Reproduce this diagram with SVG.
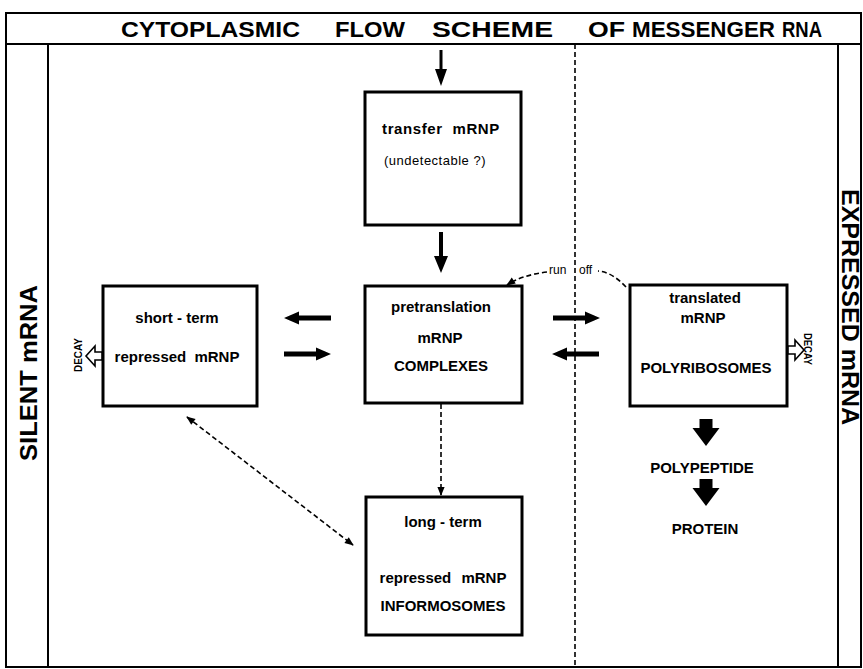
<svg xmlns="http://www.w3.org/2000/svg" width="863" height="669" viewBox="0 0 863 669">
<style>
text{font-family:"Liberation Sans",Arial,sans-serif;fill:#000}
.b{font-weight:bold;font-size:15px;text-anchor:middle}
.r{font-size:13px;text-anchor:middle;letter-spacing:0.5px}
.t{font-weight:bold;font-size:22px}
.side{font-weight:bold;font-size:23px;text-anchor:middle}
.decay{font-weight:bold;font-size:11px;text-anchor:middle}
.box{fill:#fff;stroke:#000;stroke-width:3}
.frame{fill:none;stroke:#000;stroke-width:2}
.dash{fill:none;stroke:#000;stroke-width:1.6;stroke-dasharray:5 3}
.arr{fill:#000}
.open{fill:#fff;stroke:#000;stroke-width:1.6}
</style>
<defs>
<path id="blk" d="M0,-2.5H32V-6.5L47,0L32,6.5V2.5H0Z"/>
<path id="fat" d="M-6.5,0H6.5V9H13.5L0,27L-13.5,9H-6.5Z"/>
<path id="hollow" d="M0,-4H-7V-10L-16,0L-7,10V4H0Z"/>
<marker id="tip" viewBox="0 0 10 10" refX="9" refY="5" markerWidth="10" markerHeight="9" orient="auto-start-reverse" markerUnits="userSpaceOnUse"><path d="M0,1L10,5L0,9Z"/></marker>
</defs>
<g id="frame">
<rect class="frame" x="6" y="13" width="855" height="654"/>
<line class="frame" x1="6" y1="44" x2="861" y2="44"/>
<line class="frame" x1="48" y1="44" x2="48" y2="667" stroke-width="2.5"/>
<line class="frame" x1="838" y1="44" x2="838" y2="667" stroke-width="2.5"/>
<line class="dash" x1="575" y1="44" x2="575" y2="667"/>
</g>
<g id="title">
<text class="t" x="121" y="37" textLength="179" lengthAdjust="spacingAndGlyphs">CYTOPLASMIC</text>
<text class="t" x="335" y="37" textLength="70" lengthAdjust="spacingAndGlyphs">FLOW</text>
<text class="t" x="432" y="37" textLength="121" lengthAdjust="spacingAndGlyphs">SCHEME</text>
<text class="t" x="588" y="37" textLength="37" lengthAdjust="spacingAndGlyphs">OF</text>
<text class="t" x="632" y="37" textLength="143" lengthAdjust="spacingAndGlyphs">MESSENGER</text>
<text class="t" x="782" y="37" textLength="40" lengthAdjust="spacingAndGlyphs">RNA</text>
</g>
<g id="silent-label">
<text class="side" transform="translate(37,373) rotate(-90)" textLength="176" lengthAdjust="spacingAndGlyphs">SILENT mRNA</text>
</g>
<g id="expressed-label">
<text class="side" transform="translate(842,307) rotate(90)" textLength="236" lengthAdjust="spacingAndGlyphs">EXPRESSED mRNA</text>
</g>
<g id="transfer">
<rect class="box" x="365" y="92" width="156" height="133"/>
<text class="b" x="441" y="134" letter-spacing="0.6" word-spacing="5">transfer mRNP</text>
<text class="r" x="435" y="165">(undetectable ?)</text>
</g>
<g id="pretranslation">
<rect class="box" x="365" y="286" width="157" height="117"/>
<text class="b" x="441" y="312">pretranslation</text>
<text class="b" x="440" y="343">mRNP</text>
<text class="b" x="441" y="371">COMPLEXES</text>
</g>
<g id="short-term">
<rect class="box" x="103" y="286" width="154" height="120"/>
<text class="b" x="177" y="323">short - term</text>
<text class="b" x="177" y="362" word-spacing="4">repressed mRNP</text>
<text class="decay" transform="translate(82,355) rotate(-90)" textLength="34" lengthAdjust="spacingAndGlyphs">DECAY</text>
<use href="#hollow" class="open" transform="translate(102,356)"/>
</g>
<g id="translated">
<rect class="box" x="630" y="285" width="157" height="121"/>
<text class="b" x="705" y="303">translated</text>
<text class="b" x="703" y="323">mRNP</text>
<text class="b" x="706" y="373">POLYRIBOSOMES</text>
<text class="decay" transform="translate(804,349) rotate(90)" textLength="32" lengthAdjust="spacingAndGlyphs">DECAY</text>
<use href="#hollow" class="open" transform="translate(788,350) rotate(180)"/>
</g>
<g id="informosomes">
<rect class="box" x="366" y="497" width="156" height="138"/>
<text class="b" x="443" y="527">long - term</text>
<text class="b" x="443" y="583" word-spacing="6">repressed mRNP</text>
<text class="b" x="443" y="611">INFORMOSOMES</text>
</g>
<g id="products">
<text class="b" x="702" y="473">POLYPEPTIDE</text>
<text class="b" x="705" y="534">PROTEIN</text>
</g>
<g id="connectors">
<path class="arr" d="M439.5,50H442.5V69H447L441,86L435,69H439.5Z"/>
<path class="arr" d="M439,232H443V256H448L441,273L434,256H439Z"/>
<use href="#blk" class="arr" transform="translate(331,318) rotate(180)"/>
<use href="#blk" class="arr" transform="translate(284,354)"/>
<use href="#blk" class="arr" transform="translate(553,318)"/>
<use href="#blk" class="arr" transform="translate(599,354) rotate(180)"/>
<use href="#fat" class="arr" transform="translate(706,419)"/>
<use href="#fat" class="arr" transform="translate(706,479)"/>
<line class="dash" x1="441" y1="404" x2="441" y2="495" marker-end="url(#tip)"/>
<line class="dash" x1="187" y1="417" x2="353" y2="545" marker-start="url(#tip)" marker-end="url(#tip)"/>
<path class="dash" d="M626,287Q612,272 598,271"/>
<path class="dash" d="M547,272Q522,275 507,285" marker-end="url(#tip)"/>
<text font-size="12"><tspan x="549" y="274">run</tspan><tspan x="579" y="274">off</tspan></text>
</g>
</svg>
